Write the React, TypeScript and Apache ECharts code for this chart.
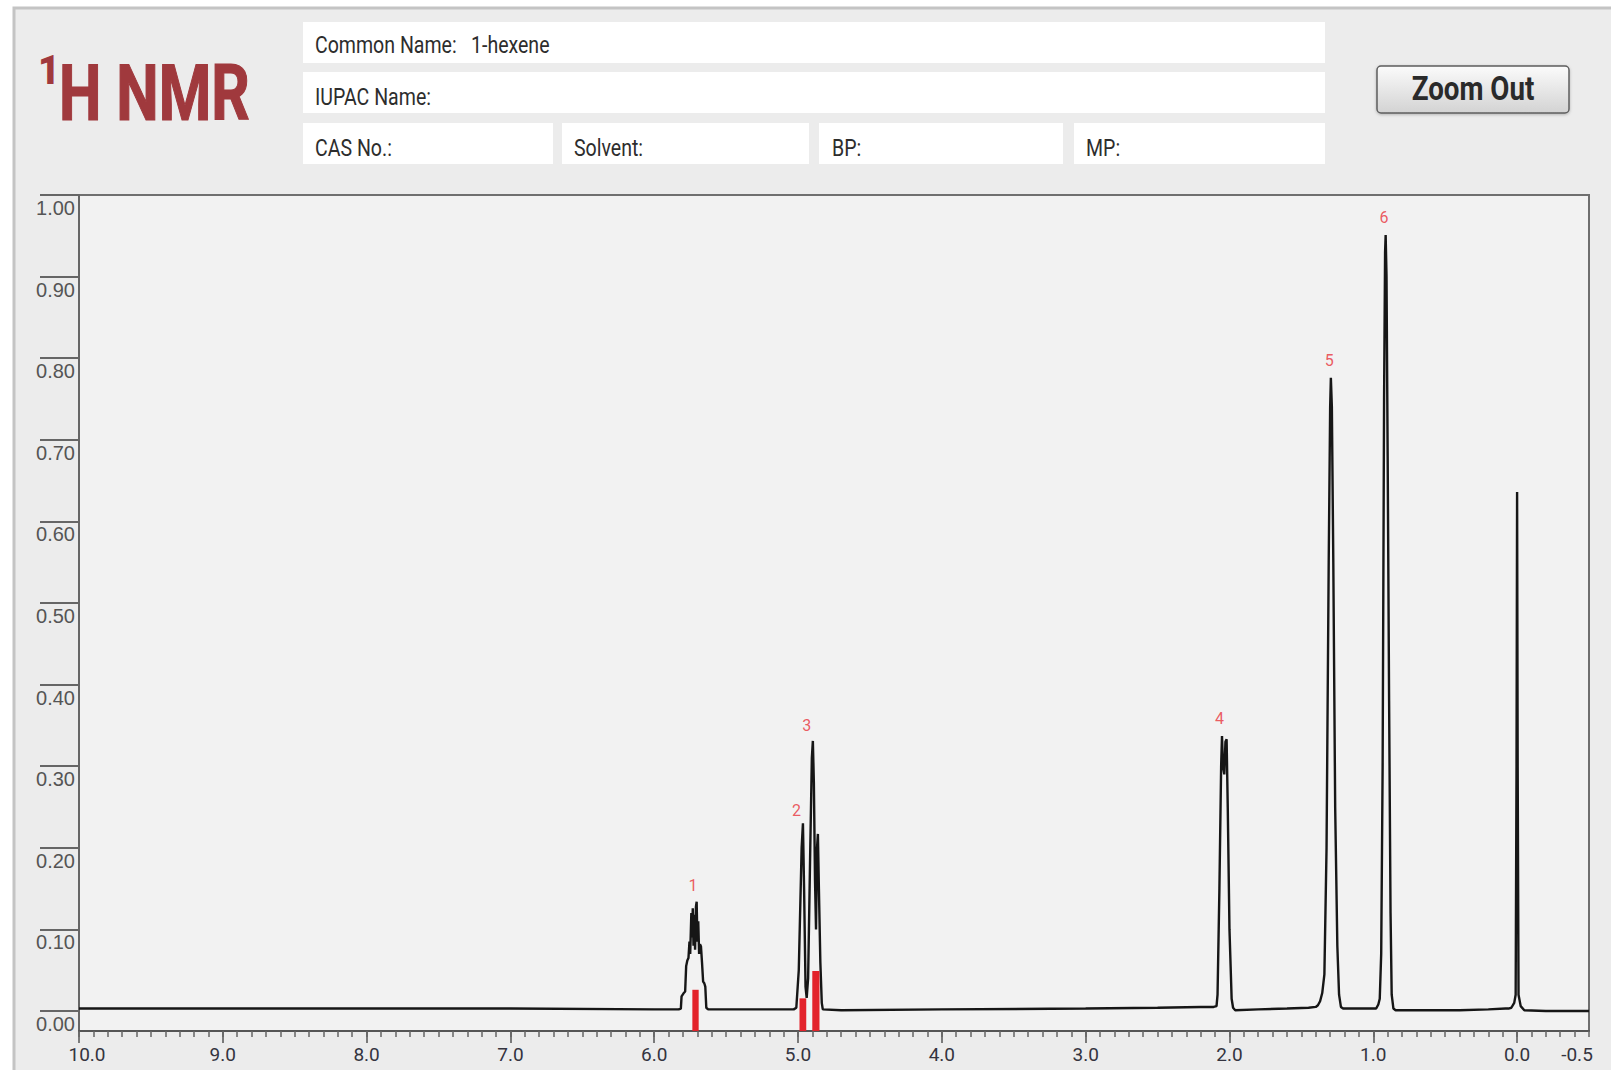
import React, { useEffect, useRef } from 'react';
import * as echarts from 'echarts';

// ---- Spectrum (chemical shift in ppm, relative intensity) ----
const baselineLow: number[][] = [[10.0, 0.003], [9.0, 0.003], [8.0, 0.003], [7.0, 0.003], [6.0, 0.002], [5.83, 0.002]];
const multiplet1: number[][] = [
  [5.815, 0.003], [5.81, 0.018], [5.795, 0.022], [5.785, 0.024], [5.778, 0.055], [5.77, 0.062], [5.762, 0.065],
  [5.755, 0.085], [5.75, 0.07], [5.742, 0.12], [5.737, 0.09], [5.732, 0.126], [5.727, 0.08], [5.722, 0.118],
  [5.716, 0.075], [5.71, 0.128], [5.705, 0.134], [5.7, 0.085], [5.694, 0.11], [5.688, 0.07], [5.682, 0.082],
  [5.675, 0.079], [5.668, 0.06], [5.66, 0.036], [5.652, 0.034], [5.645, 0.03], [5.638, 0.004], [5.625, 0.002],
];
const gapA: number[][] = [[5.4, 0.002], [5.2, 0.002], [5.03, 0.002]];
const multiplet23: number[][] = [
  [5.012, 0.004], [4.995, 0.05], [4.975, 0.2], [4.966, 0.23], [4.958, 0.15], [4.948, 0.03], [4.94, 0.016],
  [4.93, 0.04], [4.915, 0.2], [4.904, 0.31], [4.897, 0.331], [4.89, 0.28], [4.882, 0.16], [4.875, 0.1],
  [4.868, 0.2], [4.862, 0.217], [4.855, 0.15], [4.845, 0.06], [4.835, 0.01], [4.828, 0.002],
];
const gapB: number[][] = [[4.7, 0.001], [4.0, 0.002], [3.0, 0.003], [2.5, 0.004], [2.2, 0.005], [2.11, 0.005]];
const multiplet4: number[][] = [
  [2.09, 0.006], [2.083, 0.02], [2.07, 0.15], [2.058, 0.3], [2.052, 0.337], [2.045, 0.3], [2.036, 0.29],
  [2.028, 0.33], [2.02, 0.333], [2.012, 0.25], [2.0, 0.1], [1.985, 0.015], [1.975, 0.004], [1.96, 0.001],
];
const gapC: number[][] = [[1.8, 0.002], [1.6, 0.003], [1.45, 0.004], [1.4, 0.005]];
const peak5: number[][] = [
  [1.385, 0.007], [1.37, 0.012], [1.355, 0.022], [1.34, 0.045], [1.325, 0.2], [1.31, 0.55], [1.3, 0.74],
  [1.295, 0.776], [1.288, 0.74], [1.278, 0.55], [1.265, 0.25], [1.25, 0.08], [1.238, 0.02], [1.225, 0.005], [1.21, 0.003],
];
const gapD: number[][] = [[1.1, 0.003], [1.0, 0.003], [0.98, 0.003]];
const peak6: number[][] = [
  [0.965, 0.008], [0.955, 0.015], [0.945, 0.07], [0.935, 0.3], [0.925, 0.75], [0.918, 0.93], [0.914, 0.951],
  [0.908, 0.9], [0.9, 0.68], [0.89, 0.38], [0.88, 0.12], [0.872, 0.02], [0.86, 0.003], [0.845, 0.001],
];
const gapE: number[][] = [[0.7, 0.001], [0.4, 0.001], [0.2, 0.002], [0.08, 0.003], [0.06, 0.003]];
const tmsPeak: number[][] = [
  [0.04, 0.004], [0.02, 0.01], [0.01, 0.02], [0.004, 0.3], [0.0, 0.636], [-0.004, 0.3], [-0.01, 0.02],
  [-0.025, 0.006], [-0.05, 0.001],
];
const baselineHigh: number[][] = [[-0.2, 0.0], [-0.5, 0.0]];

// ---- Integration bars ----
const integralFrom = [5.735, 4.99, 4.901];
const integralTo = [5.691, 4.943, 4.851];
const integralHeight = [0.026, 0.0155, 0.049];

// ---- Peak labels ----
const peakLabels = ['1', '2', '3', '4', '5', '6'];
const peakLabelPpm = [5.73, 5.01, 4.94, 2.07, 1.306, 0.925];
const peakLabelValue = [0.154, 0.246, 0.35, 0.359, 0.797, 0.972];

// ---- Axes ----
const xLabelValues = [10, 9, 8, 7, 6, 5, 4, 3, 2, 1, 0, -0.5];
const xMajorTicks = [10, 9, 8, 7, 6, 5, 4, 3, 2, 1, 0];
const yTickValues = [0, 0.1, 0.2, 0.3, 0.4, 0.5, 0.6, 0.7, 0.8, 0.9, 1.0];
const Y_MIN = -0.0245;

// ---- Header texts ----
const rowTexts = ['Common Name:', 'IUPAC Name:'];
const commonName = '1-hexene';
const row3Texts = ['CAS No.:', 'Solvent:', 'BP:', 'MP:'];

const FONT = 'Roboto, "Liberation Sans", sans-serif';

export default function App() {
  const ref = useRef<HTMLDivElement>(null);

  useEffect(() => {
    document.body.style.margin = '0';
    document.body.style.overflow = 'hidden';
    const chart = echarts.init(ref.current!, null, { renderer: 'svg' });

    const spectrum = [
      ...baselineLow, ...multiplet1, ...gapA, ...multiplet23, ...gapB, ...multiplet4,
      ...gapC, ...peak5, ...gapD, ...peak6, ...gapE, ...tmsPeak, ...baselineHigh,
    ];

    const boxFill = '#ffffff';
    const row3X = [303, 562, 819, 1074];
    const row3W = [250, 247, 244, 251];
    const row3TextX = [315, 574, 832, 1086];
    const titleColor = '#a0393d';

    const graphic: any[] = [
      { type: 'rect', z: -10, shape: { x: 14, y: 8, width: 1620, height: 1100 }, style: { fill: '#ececec', stroke: '#c4c4c4', lineWidth: 3 } },
      { type: 'rect', z: 1, shape: { x: 303, y: 22, width: 1022, height: 41 }, style: { fill: boxFill } },
      { type: 'rect', z: 1, shape: { x: 303, y: 72, width: 1022, height: 41 }, style: { fill: boxFill } },
      ...row3X.map((x, i) => ({ type: 'rect', z: 1, shape: { x, y: 123, width: row3W[i], height: 41 }, style: { fill: boxFill } })),
      ...rowTexts.map((t, i) => ({
        type: 'text', z: 2, x: 315, y: i === 0 ? 45 : 97, scaleX: 0.85,
        style: { text: t, fontFamily: FONT, fontSize: 23, fill: '#2d2d2d', align: 'left', verticalAlign: 'middle' },
      })),
      {
        type: 'text', z: 2, x: 471, y: 45, scaleX: 0.85,
        style: { text: commonName, fontFamily: FONT, fontSize: 23, fill: '#2d2d2d', align: 'left', verticalAlign: 'middle' },
      },
      ...row3Texts.map((t, i) => ({
        type: 'text', z: 2, x: row3TextX[i], y: 148, scaleX: 0.85,
        style: { text: t, fontFamily: FONT, fontSize: 23, fill: '#2d2d2d', align: 'left', verticalAlign: 'middle' },
      })),
      // Title
      {
        type: 'text', z: 2, x: 59, y: 94, scaleX: 0.78,
        style: {
          text: 'H NMR', fontFamily: FONT, fontWeight: 'bold', fontSize: 77, fill: titleColor,
          stroke: titleColor, lineWidth: 1.2, align: 'left', verticalAlign: 'middle',
        },
      },
      {
        type: 'text', z: 2, x: 49, y: 71, scaleX: 0.95,
        style: { text: '1', fontFamily: FONT, fontWeight: 900, fontSize: 40, fill: titleColor, align: 'center', verticalAlign: 'middle' },
      },
      // Zoom Out button
      {
        type: 'rect', z: 1, shape: { x: 1377, y: 66, width: 192, height: 47, r: 4 },
        style: {
          fill: new echarts.graphic.LinearGradient(0, 0, 0, 1, [
            { offset: 0, color: '#fbfbfb' },
            { offset: 1, color: '#d3d3d3' },
          ]),
          stroke: '#5e5e5e', lineWidth: 1.5,
          shadowBlur: 3, shadowColor: 'rgba(0,0,0,0.25)', shadowOffsetY: 1,
        },
      },
      {
        type: 'text', z: 2, x: 1473, y: 89, scaleX: 0.84,
        style: { text: 'Zoom Out', fontFamily: FONT, fontWeight: 'bold', fontSize: 33, fill: '#2a2a2a', align: 'center', verticalAlign: 'middle' },
      },
    ];

    const xLabelStyle = { fontSize: 19, color: '#34343f', fontFamily: FONT };

    const option: any = {
      animation: false,
      backgroundColor: '#ffffff',
      graphic,
      grid: {
        left: 79, right: 22, top: 195, bottom: 39, show: true, containLabel: false, outerBoundsMode: 'none',
        backgroundColor: '#f2f2f2', borderColor: '#6f6f6f', borderWidth: 2,
      },
      xAxis: [
        {
          type: 'value', min: -0.5, max: 10, inverse: true, position: 'bottom',
          axisLine: { show: true, onZero: false, lineStyle: { color: '#555', width: 2 } },
          axisTick: { show: true, customValues: xMajorTicks, length: 12, lineStyle: { color: '#555', width: 1.5 } },
          axisLabel: {
            show: true, customValues: xLabelValues,
            formatter: (v: number) => (v === 10 ? '{first|10.0}' : v === -0.5 ? '{last|-0.5}' : v.toFixed(1)),
            ...xLabelStyle, margin: 14,
            rich: {
              first: { ...xLabelStyle, padding: [0, 0, 0, 16] },
              last: { ...xLabelStyle, padding: [0, 24, 0, 0] },
            },
          },
          splitLine: { show: false },
        },
        {
          type: 'value', min: -0.5, max: 10, inverse: true, position: 'bottom', interval: 0.1,
          axisLine: { show: false, onZero: false },
          axisTick: { show: true, length: 6, lineStyle: { color: '#666', width: 1.5 } },
          axisLabel: { show: false },
          splitLine: { show: false },
        },
      ],
      yAxis: {
        type: 'value', min: Y_MIN, max: 1, position: 'left',
        axisLine: { show: true, onZero: false, lineStyle: { color: '#666', width: 2 } },
        axisTick: { show: true, customValues: yTickValues, length: 39, lineStyle: { color: '#666', width: 2 } },
        axisLabel: {
          show: true, customValues: yTickValues, formatter: (v: number) => v.toFixed(2),
          fontSize: 20, color: '#555', fontFamily: '"Liberation Sans", Arial, sans-serif',
          margin: 4, verticalAlign: 'top', padding: [3, 0, 0, 0],
        },
        splitLine: { show: false },
      },
      series: [
        {
          type: 'line', data: spectrum, showSymbol: false, symbol: 'none',
          lineStyle: { color: '#161616', width: 2.4 }, z: 3, silent: true,
        },
        {
          type: 'custom', z: 4, silent: true,
          data: integralFrom.map((f, i) => [f, integralTo[i], integralHeight[i]]),
          encode: { x: [0, 1], y: 2 },
          renderItem: (params: any, api: any) => {
            const p0 = api.coord([api.value(0), api.value(2)]);
            const p1 = api.coord([api.value(1), Y_MIN]);
            return {
              type: 'rect',
              shape: { x: Math.min(p0[0], p1[0]), y: p0[1], width: Math.abs(p1[0] - p0[0]), height: p1[1] - p0[1] },
              style: { fill: '#e3232b' },
            };
          },
        },
        {
          type: 'scatter', z: 5, symbolSize: 0, silent: true,
          data: peakLabels.map((t, i) => ({ name: t, value: [peakLabelPpm[i], peakLabelValue[i]] })),
          label: { show: true, position: 'inside', formatter: '{b}', color: '#e8323a', fontSize: 16, fontFamily: FONT },
        },
      ],
    };

    chart.setOption(option);
    return () => chart.dispose();
  }, []);

  return (
    <div
      ref={ref}
      style={{ position: 'absolute', left: 0, top: 0, width: 1611, height: 1070, background: '#ffffff' }}
    />
  );
}
